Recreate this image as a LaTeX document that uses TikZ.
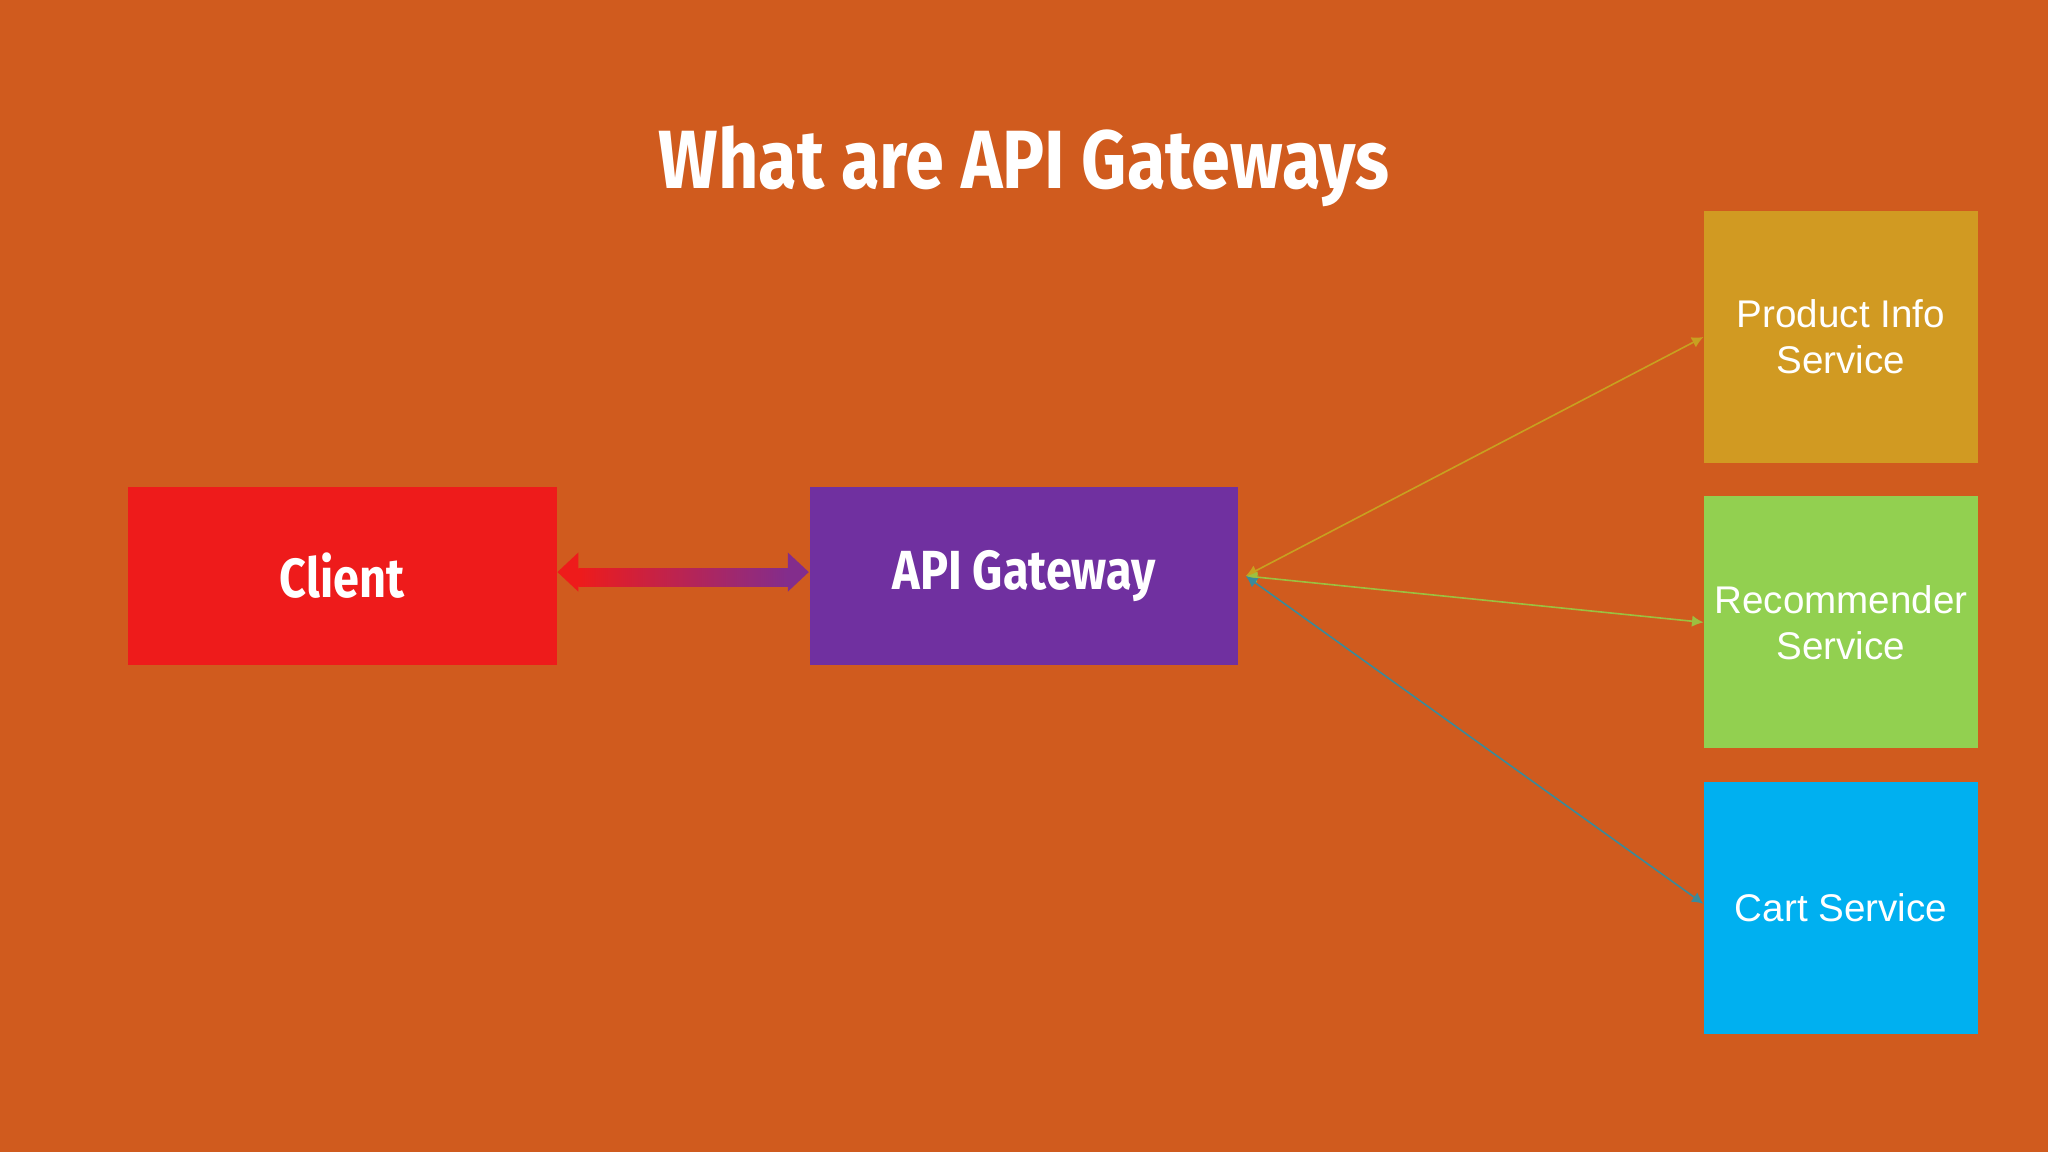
\documentclass[tikz,border=0pt]{standalone}
\usepackage{fontspec}
\setmainfont{Liberation Sans}
\newfontfamily\titlefont[FakeStretch=0.85]{Fira Sans Bold}
\usetikzlibrary{calc,arrows.meta}
\definecolor{bg}{HTML}{D05B1E}
\definecolor{cred}{HTML}{EE1B1B}
\definecolor{cpurple}{HTML}{7030A0}
\definecolor{cgold}{HTML}{D19A22}
\definecolor{cgreen}{HTML}{92D050}
\definecolor{cblue}{HTML}{00B0F0}
\definecolor{lgold}{HTML}{C8A020}
\definecolor{lgreen}{HTML}{9CC040}
\definecolor{lblue}{HTML}{3A8A9A}
\tikzset{
  box/.style={fill=#1, draw=none, inner sep=0pt, text=white, align=center},
  big/.style={font=\titlefont\fontsize{12pt}{14pt}\selectfont},
  svc/.style={font=\fontsize{8.4pt}{10pt}\selectfont},
  link/.style={line width=0.35pt, {Latex[length=2.5pt,width=2.5pt]}-{Latex[length=2.5pt,width=2.5pt]}}
}
\begin{document}
\begin{tikzpicture}[x=0.01cm,y=-0.01cm]
\fill[bg] (0,0) rectangle (1568,882);
\useasboundingbox (0,0) rectangle (1568,882);
\node[text=white, font=\titlefont\fontsize{18pt}{20pt}\selectfont] (title) at (784,127) {What are API Gateways};
\node[box=cred, big, minimum width=3.28cm, minimum height=1.36cm] (client) at (262,441) {Client};
\node[box=cpurple, big, minimum width=3.28cm, minimum height=1.36cm] (gw) at (784,441) {API Gateway};
\node[box=cgold, svc, minimum width=2.09cm, minimum height=1.93cm] (prod) at (1409.5,258) {Product Info\\Service};
\node[box=cgreen, svc, minimum width=2.09cm, minimum height=1.93cm] (rec) at (1409.5,476.5) {Recommender\\Service};
\node[box=cblue, svc, minimum width=2.09cm, minimum height=1.93cm] (cart) at (1409.5,695) {Cart Service};
% gradient double arrow
\shade[left color=cred, right color=cpurple!85!cred]
  ($(client.east)+(16,-6)$) rectangle ($(gw.west)+(-16,8)$);
\fill[cred] ($(client.east)+(0,-3)$) -- ($(client.east)+(16,-18)$) -- ($(client.east)+(16,12)$) -- cycle;
\fill[cpurple!85!cred] ($(gw.west)+(0,-3)$) -- ($(gw.west)+(-16,-18)$) -- ($(gw.west)+(-16,12)$) -- cycle;
\coordinate (g) at ($(gw.east)+(5,0)$);
\draw[link, lgold] (g) -- (prod.west);
\draw[link, lgreen] (g) -- (rec.west);
\draw[link, lblue] (g) -- ($(cart.west)+(0,-3)$);
\end{tikzpicture}
\end{document}
